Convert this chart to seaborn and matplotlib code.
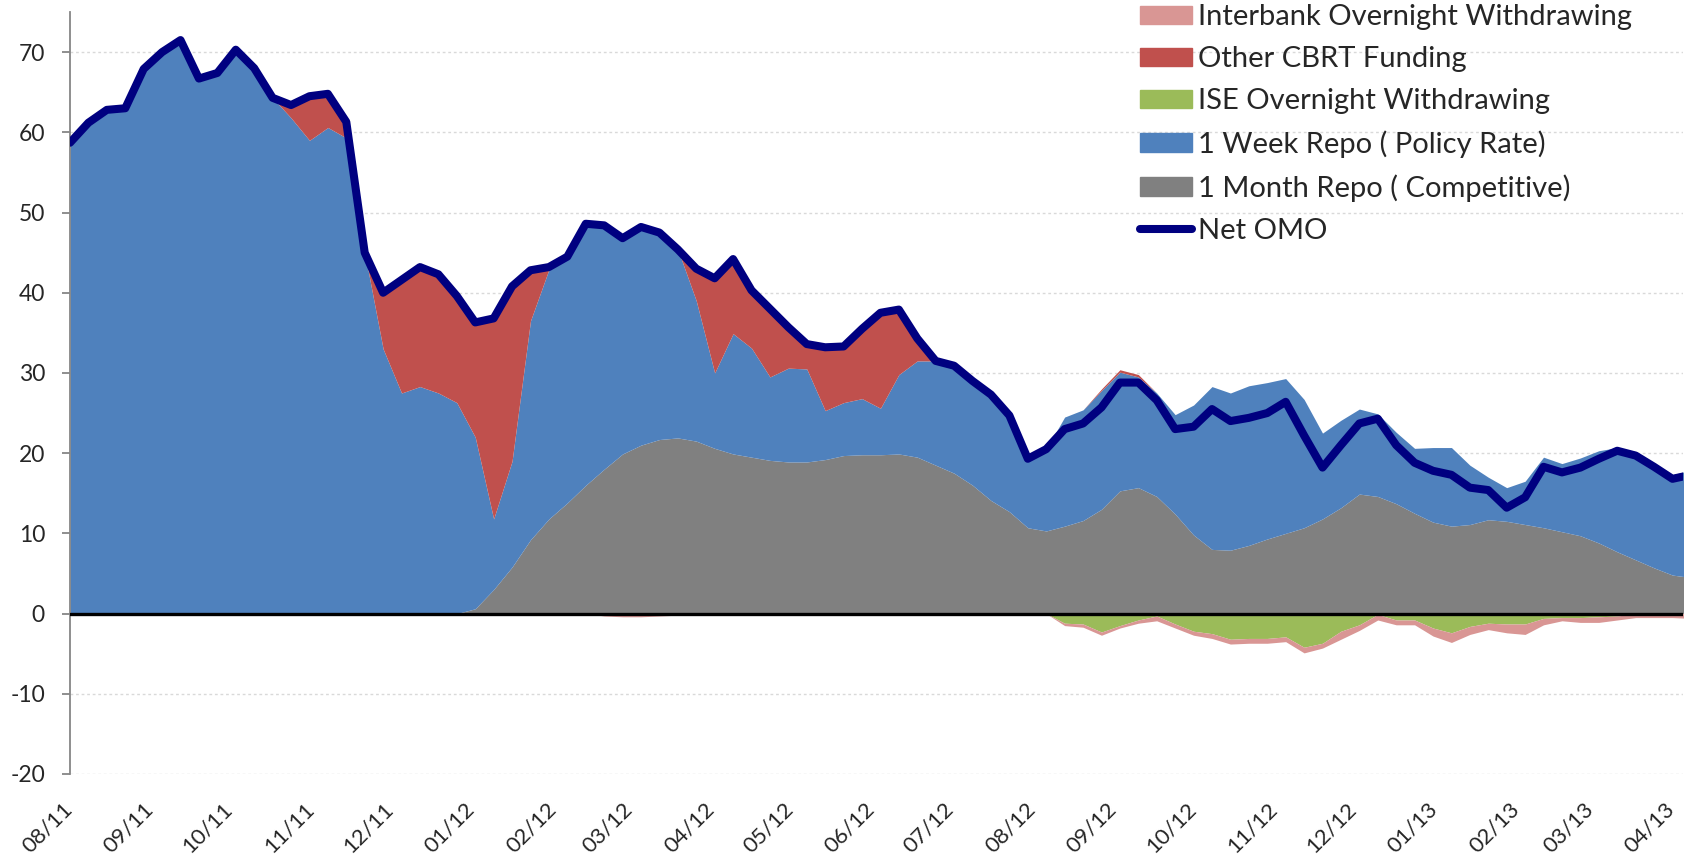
import pandas as pd
import numpy as np
import matplotlib.pyplot as plt
import matplotlib.transforms as mtransforms
from matplotlib.patches import Patch
from matplotlib.lines import Line2D
import seaborn as sns

sns.set_style("white")
plt.rcParams['font.family'] = ['Lato', 'DejaVu Sans']
plt.rcParams['axes.unicode_minus'] = False

# weekly observations, 08/2011 - 04/2013 (bn TL)
dates = pd.date_range('2011-08-01', periods=89, freq='7D')

net_omo = [58.7, 61.2, 62.8, 63.0, 67.9, 70.0, 71.5, 66.7, 67.4, 70.3,
           68.0, 64.3, 63.4, 64.5, 64.8, 61.3, 45.0, 40.0, 41.6, 43.2,
           42.3, 39.6, 36.3, 36.8, 40.8, 42.8, 43.2, 44.5, 48.6, 48.4,
           46.8, 48.2, 47.5, 45.4, 43.0, 41.8, 44.2, 40.3, 38.0, 35.7,
           33.6, 33.2, 33.3, 35.5, 37.5, 37.9, 34.3, 31.5, 30.9, 29.0,
           27.3, 24.7, 19.3, 20.5, 23.0, 23.7, 25.7, 28.8, 28.8, 26.6,
           23.0, 23.3, 25.5, 24.0, 24.4, 25.0, 26.4, 22.2, 18.2, 21.0,
           23.7, 24.3, 21.0, 18.8, 17.8, 17.3, 15.7, 15.4, 13.2, 14.5,
           18.3, 17.6, 18.2, 19.3, 20.3, 19.7, 18.3, 16.8, 17.3]

one_month_repo = [0] * 22 + [
    0.6, 3.0, 5.8, 9.2, 11.8, 13.8, 16.0, 18.0,
    19.9, 21.0, 21.7, 21.9, 21.5, 20.6, 19.9, 19.5, 19.1, 18.9,
    18.9, 19.2, 19.7, 19.8, 19.8, 19.9, 19.5, 18.5, 17.5, 16.0,
    14.1, 12.7, 10.7, 10.3, 10.9, 11.6, 13.0, 15.3, 15.7, 14.6,
    12.4, 9.8, 8.0, 7.9, 8.5, 9.3, 10.0, 10.7, 11.8, 13.2,
    14.9, 14.6, 13.7, 12.5, 11.4, 10.9, 11.1, 11.7, 11.5, 11.1,
    10.7, 10.2, 9.7, 8.8, 7.7, 6.7, 5.7, 4.8, 4.5]

one_week_repo = [58.7, 61.2, 62.8, 63.0, 67.9, 70.0, 71.5, 66.7, 67.4, 70.3,
                 68.0, 64.3, 61.8, 59.0, 60.6, 59.3, 45.0, 33.0, 27.5, 28.3,
                 27.5, 26.3, 21.4, 8.8, 13.2, 27.3, 31.1, 30.7, 32.6, 30.4,
                 26.9, 27.2, 25.8, 23.5, 17.5, 9.4, 15.0, 13.6, 10.4, 11.7,
                 11.6, 6.1, 6.6, 7.0, 5.8, 9.9, 12.0, 13.0, 13.4, 13.0,
                 13.2, 12.0, 8.6, 10.2, 13.6, 13.8, 14.8, 14.8, 13.8, 12.9,
                 12.4, 16.2, 20.3, 19.6, 19.9, 19.5, 19.3, 16.0, 10.7, 10.9,
                 10.6, 10.3, 8.9, 8.1, 9.3, 9.8, 7.4, 5.3, 4.2, 5.4,
                 8.8, 8.5, 9.7, 11.5, 13.0, 13.5, 13.1, 12.5, 13.4]

other_cbrt = [0] * 12 + [
    1.6, 5.5, 4.2, 2.0, 0, 7.0, 14.1, 14.9,
    14.8, 13.3, 14.3, 25.0, 21.8, 6.3, 0.3, 0, 0, 0,
    0, 0, 0, 0, 4.0, 11.8, 9.3, 7.2, 8.5, 5.1,
    3.1, 7.9, 7.0, 8.7, 11.9, 8.1, 2.8, 0, 0, 0,
    0, 0, 0, 0, 0, 0, 0.2, 0.3, 0.3] + [0] * 30

ise_overnight = [0] * 54 + [
    -1.2, -1.3, -2.3, -1.5, -0.8, -0.3,
    -1.3, -2.2, -2.5, -3.2, -3.1, -3.1, -2.9, -4.2, -3.7, -2.2,
    -1.4, -0.1, -0.8, -0.8, -1.8, -2.4, -1.6, -1.2, -1.3, -1.3,
    -0.6, -0.5, -0.5, -0.4, -0.3, 0, 0, 0, 0]

interbank_overnight = [0] * 7 + [-0.2, -0.2] + [0] * 5 + [-0.2, -0.2] + [0] * 13 + [
    -0.3, -0.4, -0.4, -0.3, -0.2] + [0] * 20 + [
    -0.3, -0.4, -0.4, -0.3, -0.4, -0.6,
    -0.5, -0.5, -0.6, -0.6, -0.6, -0.6, -0.6, -0.7, -0.6, -1.0,
    -0.7, -0.7, -0.6, -0.6, -1.0, -1.2, -1.0, -0.8, -1.1, -1.3,
    -0.8, -0.4, -0.6, -0.7, -0.5, -0.5, -0.5, -0.5, -0.6]

month_ticks = pd.date_range('2011-08-01', '2013-04-01', freq='MS')
month_labels = [d.strftime('%m/%y') for d in month_ticks]

c_gray, c_blue, c_red = '#808080', '#4F81BD', '#C0504D'
c_green, c_pink, c_navy = '#9BBB59', '#D99694', '#000080'

fig = plt.figure(figsize=(16.9, 8.57), dpi=100)
ax = fig.add_axes([70 / 1690, 1 - 774 / 857, (1683 - 70) / 1690, (774 - 12) / 857])

ax.stackplot(dates, one_month_repo, one_week_repo, other_cbrt,
             colors=[c_gray, c_blue, c_red], linewidth=0)
ax.stackplot(dates, ise_overnight, interbank_overnight,
             colors=[c_green, c_pink], linewidth=0)
ax.axhline(0, color='black', lw=2.4, zorder=3)

df = pd.DataFrame({'date': dates, 'net': net_omo})
sns.lineplot(data=df, x='date', y='net', ax=ax, color=c_navy, lw=5.8,
             solid_joinstyle='round', solid_capstyle='round', zorder=4)

ax.set_xlim(dates[0], pd.Timestamp('2013-04-05'))
ax.set_ylim(-20, 75)
ax.set_yticks(range(-20, 80, 10))
ax.set_xticks(month_ticks)
ax.set_xticklabels([])
ax.set_xlabel('')
ax.set_ylabel('')

# rotated month labels, ends placed just right of / below each tick
lbl_tr = ax.get_xaxis_transform() + mtransforms.ScaledTranslation(
    -8 / 100, -25 / 100, fig.dpi_scale_trans)
for d, lbl in zip(month_ticks, month_labels):
    ax.text(d, 0, lbl, transform=lbl_tr, rotation=45, ha='right', va='top',
            rotation_mode='anchor', fontsize=16, clip_on=False)

ax.set_axisbelow(True)
ax.yaxis.grid(True, color='#d9d9d9', lw=1, linestyle=(0, (2, 2)))
ax.xaxis.grid(False)
for s in ['top', 'right', 'bottom']:
    ax.spines[s].set_visible(False)
ax.spines['left'].set_color('#868686')
ax.spines['left'].set_linewidth(1.3)
ax.tick_params(axis='y', which='major', left=True, length=6, width=1.3,
               color='#868686', labelsize=16.5, pad=12)
ax.tick_params(axis='x', which='major', bottom=False)

handles = [Patch(color=c_pink), Patch(color=c_red), Patch(color=c_green),
           Patch(color=c_blue), Patch(color=c_gray),
           Line2D([], [], color=c_navy, lw=5.8)]
labels = ['Interbank Overnight Withdrawing', 'Other CBRT Funding',
          'ISE Overnight Withdrawing', '1 Week Repo ( Policy Rate)',
          '1 Month Repo ( Competitive)', 'Net OMO']
fig.legend(handles, labels, loc='upper left', bbox_to_anchor=(1140 / 1690, 0.995),
           frameon=False, fontsize=21, handlelength=1.8, handleheight=0.6,
           handletextpad=0.2, labelspacing=0.55, borderpad=0, borderaxespad=0)

fig.savefig('out.png', dpi=100)
